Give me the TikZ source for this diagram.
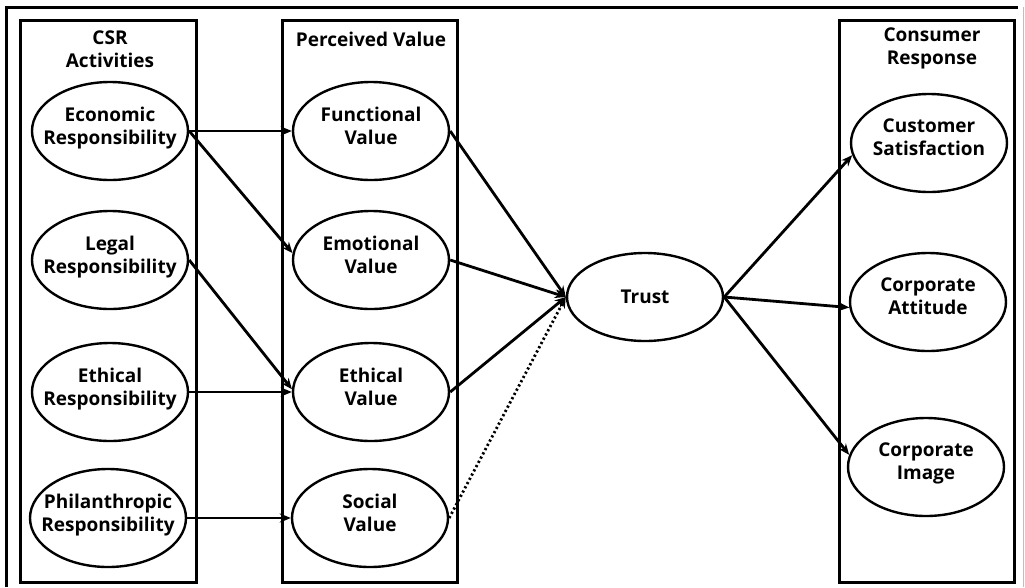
\documentclass[tikz,border=0pt]{standalone}
\usepackage{fontspec}
\setmainfont{Open Sans}
\usetikzlibrary{shapes.geometric,arrows.meta}
\begin{document}
\begin{tikzpicture}[x=1pt,y=1pt,
  every node/.style={font=\bfseries\fontsize{19}{23}\selectfont, align=center},
  ovalbase/.style={ellipse, draw, line width=2.4pt, minimum width=156pt, minimum height=98pt, inner xsep=-30pt, inner ysep=0pt},
  oval/.style={ovalbase, execute at end node={\rule[-11pt]{0pt}{0pt}}},
  grp/.style={draw, line width=3pt},
  title/.style={inner sep=0pt},
  arr/.style={line width=2.8pt, -{Stealth[length=11pt,width=9pt]}},
  darr/.style={line width=2.8pt, dash pattern=on 2.2pt off 2.6pt, -{Stealth[length=11pt,width=9pt]}}
]
\useasboundingbox (0,0) rectangle (1025,-587);
% outer frame
\draw[line width=3pt] (6,-587) -- (6,-7) -- (1018,-7);
\draw[line width=1pt, black!25] (1023,-7) -- (1023,-587);
% group boxes
\draw[grp] (20,-20) rectangle (196,-582);
\draw[grp] (282,-20) rectangle (457,-582);
\draw[grp] (839,-20) rectangle (1014,-582);
% titles
\node[title] (t1) at (110,-49) {CSR\\Activities};
\node[title] (t2) at (371,-39) {Perceived Value};
\node[title] (t3) at (932,-48) {Consumer\\Response};
% CSR
\node[oval] (econ) at (110,-131) {Economic\\Responsibility};
\node[oval] (legal) at (110,-260) {Legal\\Responsibility};
\node[oval] (ethr) at (110,-392) {Ethical\\Responsibility};
\node[oval] (phil) at (108,-518) {Philanthropic\\Responsibility};
% perceived value
\node[oval] (func) at (371,-131) {Functional\\Value};
\node[oval] (emo) at (371,-260) {Emotional\\Value};
\node[oval] (ethv) at (371,-392) {Ethical\\Value};
\node[oval] (soc) at (370,-518) {Social\\Value};
% trust
\node[ovalbase, minimum height=88pt] (trust) at (645,-297) {Trust};
% consumer response
\node[oval] (cs) at (929,-143) {Customer\\Satisfaction};
\node[oval] (ca) at (928,-302) {Corporate\\Attitude};
\node[oval] (ci) at (926,-467) {Corporate\\Image};
% arrows
\draw[arr] (econ.east) -- (func.west);
\draw[arr] (econ.east) -- (emo.175);
\draw[arr] (legal.east) -- (ethv.178);
\draw[arr] (ethr.east) -- (ethv.west);
\draw[arr] (phil.east) -- (soc.west);
\draw[arr] (func.east) -- (trust.west);
\draw[arr] (emo.east) -- (trust.west);
\draw[arr] (ethv.east) -- (trust.west);
\draw[darr] (soc.east) -- (trust.west);
\draw[arr] (trust.east) -- (cs.189);
\draw[arr] (trust.east) -- (ca.184);
\draw[arr] (trust.east) -- (ci.171);
\end{tikzpicture}
\end{document}
